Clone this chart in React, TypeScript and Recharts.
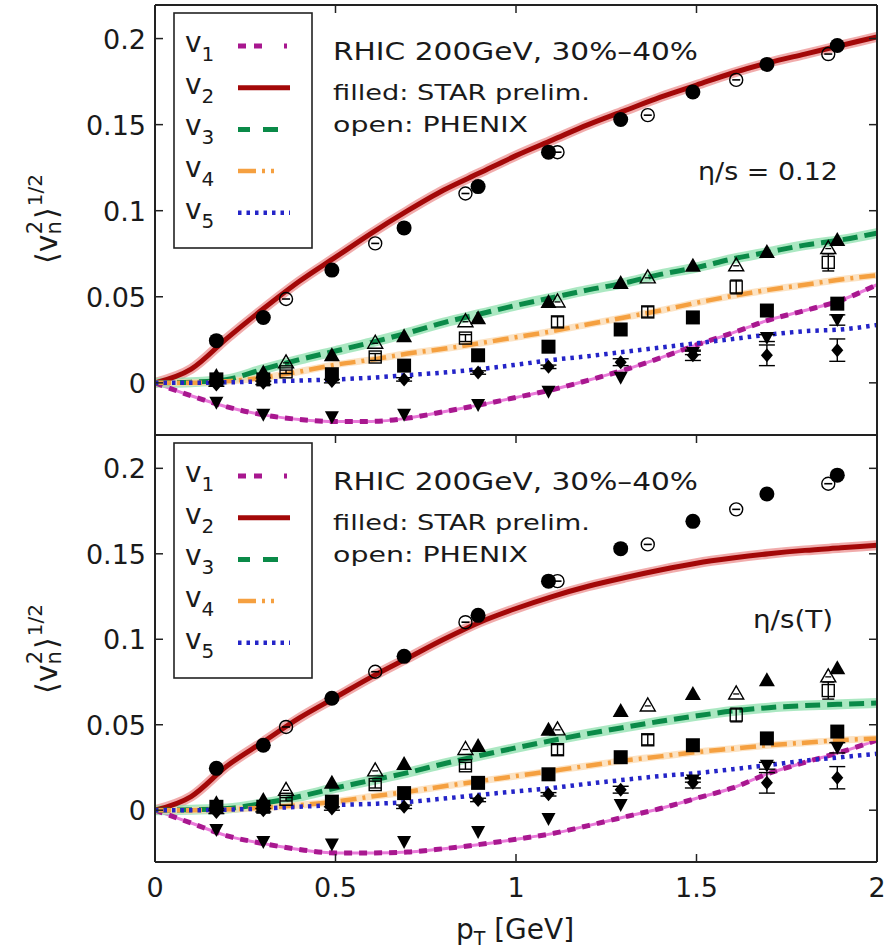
import React from 'react';
import { ComposedChart, Line, Scatter, XAxis, YAxis, ErrorBar, Legend } from 'recharts';

const FONT = "'DejaVu Sans', 'Liberation Sans', sans-serif";
const W = 889;

// pT grid for hydro curves
const ptGrid = [0, 0.1, 0.2, 0.3, 0.4, 0.5, 0.6, 0.7, 0.8, 0.9, 1.0, 1.1, 1.2, 1.3, 1.4, 1.5, 1.6, 1.7, 1.8, 1.9, 2.0];

// upper panel: eta/s = 0.12
const topV1 = [0, -0.0075, -0.014, -0.0186, -0.0213, -0.0225, -0.0224, -0.0205, -0.0168, -0.0128, -0.0085, -0.004, 0.0015, 0.0075, 0.0145, 0.022, 0.029, 0.0365, 0.042, 0.048, 0.057];
const topV2 = [0, 0.008, 0.026, 0.043, 0.059, 0.073, 0.087, 0.1, 0.112, 0.122, 0.132, 0.141, 0.15, 0.158, 0.166, 0.173, 0.18, 0.186, 0.191, 0.196, 0.201];
const topV3 = [0, 0.0004, 0.002, 0.008, 0.0135, 0.0185, 0.0235, 0.029, 0.035, 0.04, 0.045, 0.0495, 0.054, 0.058, 0.063, 0.067, 0.072, 0.076, 0.08, 0.083, 0.087];
const topV4 = [0, 0, 0.001, 0.003, 0.0065, 0.0105, 0.0135, 0.017, 0.0198, 0.023, 0.0265, 0.03, 0.034, 0.038, 0.042, 0.0465, 0.0505, 0.054, 0.057, 0.06, 0.0625];
const topV5 = [0, 0, 0.0003, 0.0008, 0.0013, 0.002, 0.003, 0.0045, 0.006, 0.008, 0.0105, 0.0133, 0.0155, 0.018, 0.0205, 0.023, 0.0255, 0.028, 0.03, 0.031, 0.0336];

// lower panel: eta/s(T)
const botV1 = [0, -0.0075, -0.015, -0.0195, -0.023, -0.025, -0.025, -0.0245, -0.0225, -0.02, -0.017, -0.0137, -0.009, -0.004, 0.001, 0.007, 0.013, 0.0215, 0.028, 0.034, 0.041];
const botV2 = [0, 0.008, 0.026, 0.04, 0.054, 0.066, 0.078, 0.089, 0.1, 0.11, 0.118, 0.125, 0.131, 0.136, 0.1405, 0.1445, 0.1475, 0.15, 0.152, 0.1535, 0.155];
const botV3 = [0, 0.0003, 0.001, 0.004, 0.008, 0.013, 0.0175, 0.022, 0.0272, 0.032, 0.0365, 0.0408, 0.0448, 0.0485, 0.052, 0.0552, 0.058, 0.06, 0.0612, 0.062, 0.0627];
const botV4 = [0, 0, 0.0005, 0.0015, 0.003, 0.005, 0.008, 0.0108, 0.014, 0.017, 0.02, 0.023, 0.026, 0.029, 0.0315, 0.034, 0.036, 0.038, 0.0395, 0.041, 0.042];
const botV5 = [0, 0, 0.0003, 0.001, 0.002, 0.003, 0.0037, 0.0048, 0.0068, 0.009, 0.011, 0.013, 0.0155, 0.0178, 0.02, 0.0217, 0.024, 0.0264, 0.029, 0.031, 0.033];

// STAR preliminary (filled)
const starPt = [0.17, 0.3, 0.49, 0.69, 0.895, 1.09, 1.29, 1.49, 1.695, 1.89];
const starV2 = [0.0245, 0.038, 0.0655, 0.09, 0.114, 0.134, 0.153, 0.169, 0.185, 0.196];
const starV3 = [0.004, 0.006, 0.016, 0.027, 0.0375, 0.047, 0.058, 0.068, 0.076, 0.083];
const starV4 = [0.002, 0.002, 0.005, 0.01, 0.016, 0.021, 0.031, 0.038, 0.042, 0.046];
const starV5 = [-0.001, 0.0, 0.001, 0.002, 0.006, 0.0093, 0.012, 0.016, 0.016, 0.019];
const starV5Err = [0.001, 0.001, 0.001, 0.001, 0.001, 0.001, 0.002, 0.003, 0.006, 0.0065];
const starV1 = [-0.0116, -0.0186, -0.02, -0.0186, -0.0128, -0.0052, 0.003, 0.0174, 0.026, 0.0365];
const starV1Err = [0, 0, 0, 0, 0, 0, 0, 0.001, 0.002, 0.003];

// PHENIX (open)
const phenixPt = [0.363, 0.61, 0.86, 1.115, 1.365, 1.61, 1.865];
const phenixV2 = [0.0487, 0.081, 0.11, 0.134, 0.1555, 0.176, 0.191];
const phenixV3 = [0.0116, 0.023, 0.0355, 0.047, 0.061, 0.068, 0.078];
const phenixV4 = [0.0064, 0.015, 0.026, 0.0354, 0.0412, 0.0557, 0.07];
const phenixV4Err = [0.001, 0.002, 0.002, 0.003, 0.003, 0.004, 0.005];

const xTicks = [0, 0.5, 1, 1.5, 2];
const xTickLabels = ['0', '0.5', '1', '1.5', '2'];
const yTicks = [0, 0.05, 0.1, 0.15, 0.2];
const yTickLabels = ['0', '0.05', '0.1', '0.15', '0.2'];
const frameX = [0, 2];
const frameY = [0, 0];

const harmonics = ['1', '2', '3', '4', '5'];

const zip = (xs: number[], ys: number[], es?: number[]) =>
  xs.map((x, i) => (es ? { x, y: ys[i], e: es[i] } : { x, y: ys[i] }));

const styles = [
  { color: '#a8178f', dash: '8 7', width: 5, band: '#e97ad9', bandWidth: 3, bandOpacity: 1, legendDash: '8 8 8 22 3 30' },
  { color: '#a30808', dash: undefined, width: 5, band: '#ec9090', bandWidth: 10, bandOpacity: 0.75, legendDash: undefined },
  { color: '#0a8a48', dash: '15 7', width: 5, band: '#8fe0ae', bandWidth: 10, bandOpacity: 0.75, legendDash: '12 13 15 12 3 30' },
  { color: '#f5a040', dash: '16 6 3 6', width: 4.5, band: '#fbd9b0', bandWidth: 7, bandOpacity: 0.75, legendDash: '18 6 3 6 3 30' },
  { color: '#2424c8', dash: '3.5 5', width: 4.5, band: null, bandWidth: 0, bandOpacity: 0, legendDash: '3.5 5' },
];

const AX = '#222';

// ---------- marker shapes ----------
const FilledCircle = (p: any) => <circle cx={p.cx} cy={p.cy} r={7.5} fill="#000" />;
const OpenCircle = (p: any) => (
  <g>
    <circle cx={p.cx} cy={p.cy} r={6.5} fill="none" stroke="#000" strokeWidth={1.4} />
    <line x1={p.cx - 4} x2={p.cx + 4} y1={p.cy} y2={p.cy} stroke="#000" strokeWidth={1.6} />
  </g>
);
const FilledTri = (p: any) => (
  <polygon points={`${p.cx},${p.cy - 8} ${p.cx - 8},${p.cy + 6} ${p.cx + 8},${p.cy + 6}`} fill="#000" />
);
const OpenTri = (p: any) => (
  <g>
    <polygon points={`${p.cx},${p.cy - 8} ${p.cx - 7.5},${p.cy + 5} ${p.cx + 7.5},${p.cy + 5}`} fill="none" stroke="#000" strokeWidth={1.4} />
    <line x1={p.cx - 3} x2={p.cx + 3} y1={p.cy} y2={p.cy} stroke="#000" strokeWidth={1.3} />
  </g>
);
const FilledSquare = (p: any) => <rect x={p.cx - 7} y={p.cy - 7} width={14} height={14} fill="#000" />;
const OpenSquare = (p: any) => (
  <rect x={p.cx - 6} y={p.cy - 6} width={12} height={12} fill="none" stroke="#000" strokeWidth={1.4} />
);
const Diamond = (p: any) => (
  <polygon points={`${p.cx},${p.cy - 7} ${p.cx + 6},${p.cy} ${p.cx},${p.cy + 7} ${p.cx - 6},${p.cy}`} fill="#000" />
);
const DownTri = (p: any) => (
  <polygon points={`${p.cx - 7},${p.cy - 6} ${p.cx + 7},${p.cy - 6} ${p.cx},${p.cy + 7}`} fill="#000" />
);

// ---------- tick renderers ----------
const yLabelOf = (v: number) => yTickLabels[yTicks.indexOf(v)] ?? String(v);
const xLabelOf = (v: number) => xTickLabels[xTicks.indexOf(v)] ?? String(v);

const LeftTick = (p: any) => (
  <g>
    <line x1={p.x} x2={p.x + 8} y1={p.y} y2={p.y} stroke={AX} strokeWidth={1.5} />
    <text x={p.x - 9} y={p.y} dy={10} textAnchor="end" fontSize={27} fontFamily={FONT} fill="#1a1a1a">
      {yLabelOf(p.payload.value)}
    </text>
  </g>
);
const RightTick = (p: any) => (
  <line x1={p.x} x2={p.x - 8} y1={p.y} y2={p.y} stroke={AX} strokeWidth={1.5} />
);
const TopTick = (p: any) => (
  <line x1={p.x} x2={p.x} y1={p.y} y2={p.y + 8} stroke={AX} strokeWidth={1.5} />
);
const BottomTickNoLabel = (p: any) => (
  <line x1={p.x} x2={p.x} y1={p.y} y2={p.y - 8} stroke={AX} strokeWidth={1.5} />
);
const BottomTickLabel = (p: any) => (
  <g>
    <line x1={p.x} x2={p.x} y1={p.y} y2={p.y - 8} stroke={AX} strokeWidth={1.5} />
    <text x={p.x} y={p.y + 35} textAnchor="middle" fontSize={27} fontFamily={FONT} fill="#1a1a1a">
      {xLabelOf(p.payload.value)}
    </text>
  </g>
);

// ---------- overlay (legend box, annotations, axis titles) ----------
const makeOverlay = (plotTop: number, height: number, etaText: string, etaX: number, etaY: number, etaLen: number, showXTitle: boolean) => () => {
  const lb = plotTop + 47;
  return (
    <svg width={W} height={height} style={{ position: 'absolute', left: 0, top: 0, pointerEvents: 'none' }}>
      <rect x={174} y={plotTop + 8} width={138} height={235} fill="#fff" stroke={AX} strokeWidth={1.6} />
      {harmonics.map((h, i) => {
        const by = lb + i * 41.7;
        const s = styles[i];
        return (
          <g key={h}>
            <text x={185} y={by} fontSize={28} fontFamily={FONT} fill="#1a1a1a">
              v<tspan fontSize={20} dy={9}>{h}</tspan>
            </text>
            <line x1={238} x2={290} y1={by - 6} y2={by - 6} stroke={s.color} strokeWidth={s.width} strokeDasharray={s.legendDash} />
          </g>
        );
      })}
      <text x={333} y={plotTop + 55} fontSize={25} fontFamily={FONT} fill="#1a1a1a" textLength={365} lengthAdjust="spacingAndGlyphs">
        RHIC 200GeV, 30%–40%
      </text>
      <text x={333} y={plotTop + 95} fontSize={21} fontFamily={FONT} fill="#1a1a1a" textLength={257} lengthAdjust="spacingAndGlyphs">
        filled: STAR prelim.
      </text>
      <text x={333} y={plotTop + 127} fontSize={21} fontFamily={FONT} fill="#1a1a1a" textLength={195} lengthAdjust="spacingAndGlyphs">
        open: PHENIX
      </text>
      <text x={etaX} y={plotTop + etaY} fontSize={25} fontFamily={FONT} fill="#1a1a1a" textLength={etaLen} lengthAdjust="spacingAndGlyphs">
        {etaText}
      </text>
      <text
        x={57}
        y={plotTop + 214}
        transform={`rotate(-90 57 ${plotTop + 214})`}
        textAnchor="middle"
        fontSize={30}
        fontFamily={FONT}
        fill="#1a1a1a"
      >
        ⟨v<tspan fontSize={21} dy={4}>n</tspan>
        <tspan fontSize={21} dx={-13} dy={-19}>2</tspan>
        <tspan dx={2} dy={15}>⟩</tspan>
        <tspan fontSize={20} dx={1} dy={-15}>1/2</tspan>
      </text>
      {showXTitle && (
        <text x={515} y={plotTop + 504} textAnchor="middle" fontSize={28} fontFamily={FONT} fill="#1a1a1a">
          p<tspan fontSize={19} dy={6}>T</tspan>
          <tspan dy={-6}> [GeV]</tspan>
        </text>
      )}
    </svg>
  );
};

type PanelProps = {
  curves: number[][];
  height: number;
  margin: { top: number; right: number; bottom: number; left: number };
  bottomAxisHeight: number;
  showXLabels: boolean;
  overlay: () => React.ReactElement;
};

function Panel({ curves, height, margin, bottomAxisHeight, showXLabels, overlay }: PanelProps) {
  const lines = curves.map((c) => zip(ptGrid, c));
  return (
    <ComposedChart width={W} height={height} margin={margin}>
      <XAxis
        dataKey="x"
        type="number"
        domain={[0, 2]}
        ticks={xTicks}
        interval={0}
        allowDataOverflow
        height={bottomAxisHeight}
        tickSize={0}
        tickMargin={0}
        tickLine={false}
        axisLine={{ stroke: AX, strokeWidth: 2 }}
        tick={showXLabels ? BottomTickLabel : BottomTickNoLabel}
      />
      <XAxis
        xAxisId="t"
        dataKey="x"
        orientation="top"
        type="number"
        domain={[0, 2]}
        ticks={xTicks}
        interval={0}
        allowDataOverflow
        height={1}
        tickSize={0}
        tickMargin={0}
        tickLine={false}
        axisLine={{ stroke: AX, strokeWidth: 2 }}
        tick={TopTick}
      />
      <YAxis
        dataKey="y"
        type="number"
        domain={[-0.0303, 0.2195]}
        ticks={yTicks}
        interval={0}
        allowDataOverflow
        width={155}
        tickSize={0}
        tickMargin={0}
        tickLine={false}
        axisLine={{ stroke: AX, strokeWidth: 2 }}
        tick={LeftTick}
      />
      <YAxis
        yAxisId="r"
        dataKey="y"
        orientation="right"
        type="number"
        domain={[-0.0303, 0.2195]}
        ticks={yTicks}
        interval={0}
        allowDataOverflow
        width={1}
        tickSize={0}
        tickMargin={0}
        tickLine={false}
        axisLine={{ stroke: AX, strokeWidth: 2 }}
        tick={RightTick}
      />
      <Line
        xAxisId="t"
        yAxisId="r"
        data={zip(frameX, frameY)}
        dataKey="y"
        stroke="none"
        dot={false}
        activeDot={false}
        legendType="none"
        isAnimationActive={false}
      />
      {lines.map((d, i) =>
        styles[i].band ? (
          <Line
            key={`band${i}`}
            data={d}
            dataKey="y"
            type="monotone"
            stroke={styles[i].band as string}
            strokeOpacity={styles[i].bandOpacity}
            strokeWidth={styles[i].bandWidth}
            dot={false}
            activeDot={false}
            legendType="none"
            isAnimationActive={false}
          />
        ) : null
      )}
      {lines.map((d, i) => (
        <Line
          key={`line${i}`}
          data={d}
          dataKey="y"
          type="monotone"
          stroke={styles[i].color}
          strokeWidth={styles[i].width}
          strokeDasharray={styles[i].dash}
          dot={false}
          activeDot={false}
          legendType="none"
          isAnimationActive={false}
        />
      ))}
      <Scatter data={zip(starPt, starV2)} shape={FilledCircle} isAnimationActive={false} legendType="none" />
      <Scatter data={zip(phenixPt, phenixV2)} shape={OpenCircle} isAnimationActive={false} legendType="none" />
      <Scatter data={zip(starPt, starV3)} shape={FilledTri} isAnimationActive={false} legendType="none" />
      <Scatter data={zip(phenixPt, phenixV3)} shape={OpenTri} isAnimationActive={false} legendType="none" />
      <Scatter data={zip(starPt, starV4)} shape={FilledSquare} isAnimationActive={false} legendType="none" />
      <Scatter data={zip(phenixPt, phenixV4, phenixV4Err)} shape={OpenSquare} isAnimationActive={false} legendType="none">
        <ErrorBar dataKey="e" direction="y" width={6} stroke="#000" strokeWidth={1.4} />
      </Scatter>
      <Scatter data={zip(starPt, starV5, starV5Err)} shape={Diamond} isAnimationActive={false} legendType="none">
        <ErrorBar dataKey="e" direction="y" width={8} stroke="#000" strokeWidth={1.4} />
      </Scatter>
      <Scatter data={zip(starPt, starV1, starV1Err)} shape={DownTri} isAnimationActive={false} legendType="none">
        <ErrorBar dataKey="e" direction="y" width={8} stroke="#000" strokeWidth={1.4} />
      </Scatter>
      <Legend
        layout="horizontal"
        verticalAlign="middle"
        align="center"
        content={overlay}
        wrapperStyle={{ position: 'absolute', left: 0, top: 0, width: W, height, margin: 0, padding: 0 }}
      />
    </ComposedChart>
  );
}

export default function App() {
  const topOverlay = makeOverlay(5, 440, 'η/s = 0.12', 698, 175, 140, false);
  const botOverlay = makeOverlay(1, 517, 'η/s(T)', 753, 193, 80, true);
  return (
    <div style={{ position: 'absolute', left: 0, top: 0, width: W, height: 951, background: '#fff' }}>
      <div style={{ position: 'absolute', left: 0, top: 0 }}>
        <Panel
          curves={[topV1, topV2, topV3, topV4, topV5]}
          height={440}
          margin={{ top: 4, right: 11, bottom: 5, left: 0 }}
          bottomAxisHeight={0}
          showXLabels={false}
          overlay={topOverlay}
        />
      </div>
      <div style={{ position: 'absolute', left: 0, top: 434 }}>
        <Panel
          curves={[botV1, botV2, botV3, botV4, botV5]}
          height={517}
          margin={{ top: 0, right: 11, bottom: 0, left: 0 }}
          bottomAxisHeight={89}
          showXLabels={true}
          overlay={botOverlay}
        />
      </div>
    </div>
  );
}
